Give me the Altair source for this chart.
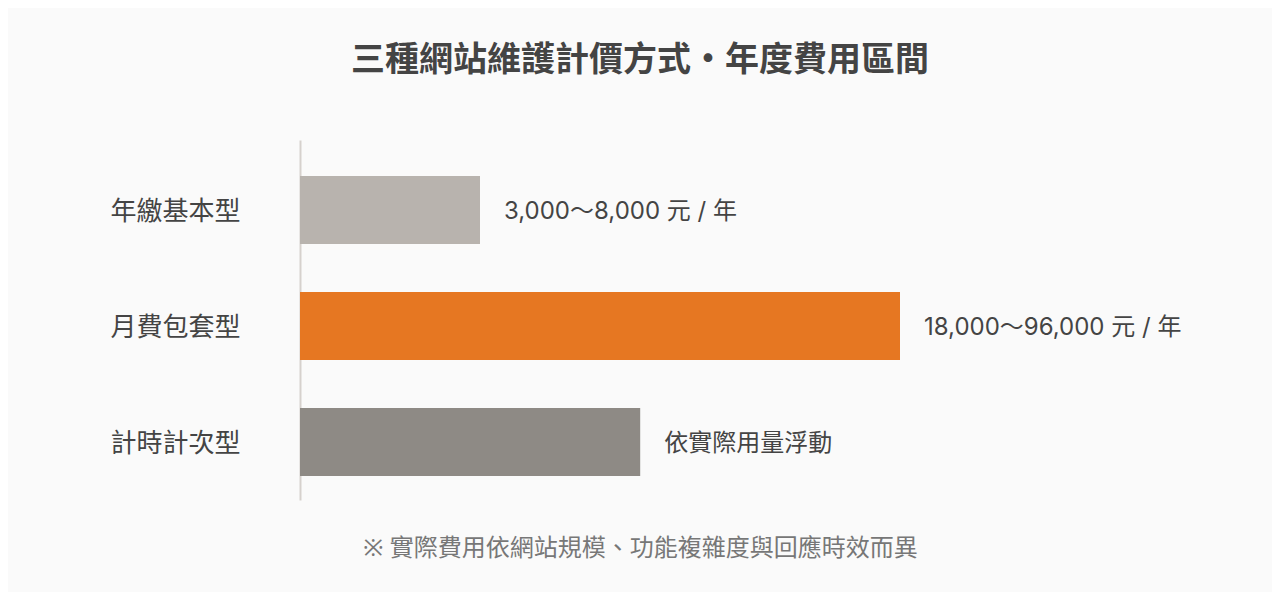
import altair as alt
import pandas as pd

categories = ["年繳基本型", "月費包套型", "計時計次型"]
bar_values = [30, 100, 56.7]
value_labels = ["3,000～8,000 元 / 年", "18,000～96,000 元 / 年", "依實際用量浮動"]
bar_colors = ["#b8b3ae", "#e67722", "#8e8a85"]

title_text = "三種網站維護計價方式・年度費用區間"
note_text = "※ 實際費用依網站規模、功能複雜度與回應時效而異"

df = pd.DataFrame({"category": categories, "value": bar_values, "label": value_labels})

FONT = "Noto Sans CJK TC"
MIXED = "Noto Sans, Noto Sans CJK TC"
VALUE_FONT = "Inter, Noto Sans CJK TC"

y = alt.Y(
    "category:N",
    sort=categories,
    scale=alt.Scale(paddingInner=0.4138, paddingOuter=0.2586, align=0.6),
    axis=alt.Axis(
        title=None, ticks=False, tickSize=0, domain=True, domainColor="#d6d1cd",
        domainWidth=2, labelFontSize=26, labelColor="#444444", labelFont=FONT,
        labelPadding=60, labelOffset=2, grid=False,
    ),
)
x = alt.X(
    "value:Q",
    scale=alt.Scale(domain=[0, 113.333], nice=False, zero=True),
    axis=alt.Axis(
        title=note_text, labels=False, ticks=False, domain=False, grid=False,
        titleFontSize=24, titleColor="#777777", titleFont=MIXED,
        titleFontWeight="normal", titlePadding=36,
    ),
)

bars = alt.Chart(df).mark_bar().encode(
    x=x,
    y=y,
    color=alt.Color("category:N", scale=alt.Scale(domain=categories, range=bar_colors), legend=None),
)

texts = alt.Chart(df).mark_text(
    align="left", baseline="middle", dx=24, dy=2, fontSize=24, color="#444444", font=VALUE_FONT
).encode(
    x=alt.X("value:Q"),
    y=alt.Y("category:N", sort=categories),
    text="label:N",
)

chart = (
    alt.layer(bars, texts)
    .properties(
        width=680,
        height=360,
        autosize=alt.AutoSizeParams(type="none"),
        padding={"left": 292, "top": 132, "right": 292, "bottom": 92},
        background="#fafafa",
        title=alt.TitleParams(
            text=title_text, fontSize=34, fontWeight="bold", color="#444444",
            font=FONT, anchor="middle", offset=62,
        ),
    )
    .configure_view(stroke=None)
)

chart.save("out.html", embed_options={"renderer": "svg", "actions": False})
